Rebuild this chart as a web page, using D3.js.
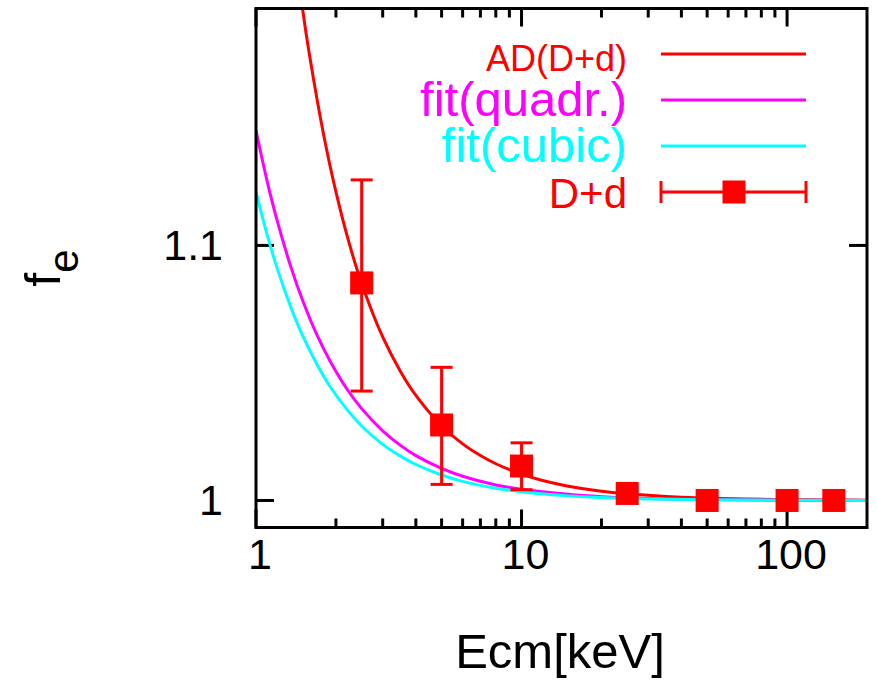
<!DOCTYPE html>
<html><head><meta charset="utf-8">
<script src="https://cdn.jsdelivr.net/npm/d3@7"></script>
<style>body{margin:0;background:#fff}svg{display:block}text{font-family:"Liberation Sans",Arial,sans-serif}</style>
</head><body><svg id="c" width="878" height="685"></svg>
<script>
// ---- data ----
const adE = [1.45,1.5,1.6,1.8,2.0,2.25,2.5,3,3.5,4,5,6,7,8,10,12,15,20,25,30,40,50,70,100,150,200];
const adF = [1.205,1.1922,1.1730,1.1431,1.1210,1.1004,1.0851,1.0641,1.0506,1.0412,1.0293,1.0222,1.0176,1.0144,1.0103,1.0078,1.0056,1.0036,1.0026,1.0020,1.0013,1.0009,1.0006,1.0003,1.0002,1.0001];
const quadE = [1,1.1,1.2,1.35,1.5,1.7,1.9,2.2,2.5,3,3.5,4,5,6,8,10,15,20,30,50,100,200];
const quadF = [1.145,1.1254,1.1099,1.0919,1.0783,1.0647,1.0547,1.0437,1.0360,1.0273,1.0216,1.0176,1.0126,1.0095,1.0061,1.0044,1.0024,1.0015,1.0008,1.0004,1.0001,1.0000];
const cubE = [1,1.1,1.2,1.35,1.5,1.7,1.9,2.2,2.5,3,3.5,4,5,6,8,10,15,20,30,50,100,200];
const cubF = [1.121,1.1044,1.0912,1.0760,1.0645,1.0532,1.0447,1.0357,1.0292,1.0220,1.0174,1.0141,1.0100,1.0075,1.0048,1.0034,1.0018,1.0012,1.0006,1.0003,1.0001,1.0000];
const ptE = [2.5,5,10,25,50,100,150];
const ptF = [1.0853,1.0296,1.0135,1.00275,1.0000,1.0000,1.0000];
const ptLo = [1.0429,1.0063,1.0042,1.0010,0.9995,0.9995,0.9995];
const ptHi = [1.1257,1.0522,1.0226,1.0045,1.0005,1.0005,1.0005];
const xTickVals = [1,10,100];
const xTickLabels = ["1","10","100"];
const yTickVals = [1,1.1];
const yTickLabels = ["1","1.1"];
const legendLabels = ["AD(D+d)","fit(quadr.)","fit(cubic)","D+d"];

// ---- layout ----
const L=256,R=867,T=8.5,B=527.5;
const svg=d3.select("#c");
const x=d3.scaleLog().domain([1,200]).range([L,R]);
const y=d3.scaleLinear().domain([0.9894,1.1929]).range([B,T]);
const red="#ff0000",mag="#ff00ff",cyan="#00ffff";

svg.append("defs").append("clipPath").attr("id","clip")
  .append("rect").attr("x",L).attr("y",T).attr("width",R-L).attr("height",B-T);

// ticks
const minor=[];
for(const d of [1,10,100]) for(let k=2;k<=9;k++){const v=d*k; if(v<200) minor.push(v);}
const tg=svg.append("g").attr("stroke","#000").attr("stroke-width",3);
xTickVals.forEach(v=>{
  tg.append("line").attr("x1",x(v)).attr("x2",x(v)).attr("y1",B).attr("y2",B-18);
  tg.append("line").attr("x1",x(v)).attr("x2",x(v)).attr("y1",T).attr("y2",T+18);
});
minor.forEach(v=>{
  tg.append("line").attr("x1",x(v)).attr("x2",x(v)).attr("y1",B).attr("y2",B-9);
  tg.append("line").attr("x1",x(v)).attr("x2",x(v)).attr("y1",T).attr("y2",T+9);
});
yTickVals.forEach(v=>{
  tg.append("line").attr("x1",L).attr("x2",L+18).attr("y1",y(v)).attr("y2",y(v));
  tg.append("line").attr("x1",R).attr("x2",R-18).attr("y1",y(v)).attr("y2",y(v));
});

// tick labels
xTickVals.forEach((v,i)=>{
  svg.append("text").attr("x",x(v)+4).attr("y",569).attr("text-anchor","middle")
    .attr("font-size",43).text(xTickLabels[i]);
});
yTickVals.forEach((v,i)=>{
  svg.append("text").attr("x",223).attr("y",y(v)+15).attr("text-anchor","end")
    .attr("font-size",43).text(yTickLabels[i]);
});

// axis labels
svg.append("text").attr("x",560).attr("y",668).attr("text-anchor","middle")
  .attr("font-size",49).text("Ecm[keV]");
const yl=svg.append("text").attr("transform","translate(60,268) rotate(-90)")
  .attr("text-anchor","middle").attr("font-size",50);
yl.append("tspan").text("f");
yl.append("tspan").attr("font-size",42).attr("dy",18).text("e");

// curves
const line=d3.line().x(d=>x(d[0])).y(d=>y(d[1])).curve(d3.curveCatmullRom.alpha(0.5));
const cg=svg.append("g").attr("clip-path","url(#clip)").attr("fill","none").attr("stroke-width",3);
cg.append("path").attr("d",line(adE.map((e,i)=>[e,adF[i]]))).attr("stroke",red);
cg.append("path").attr("d",line(quadE.map((e,i)=>[e,quadF[i]]))).attr("stroke",mag);
cg.append("path").attr("d",line(cubE.map((e,i)=>[e,cubF[i]]))).attr("stroke",cyan);

// points with error bars
const pg=svg.append("g");
ptE.forEach((e,i)=>{
  const cx=x(e);
  pg.append("line").attr("x1",cx).attr("x2",cx).attr("y1",y(ptLo[i])).attr("y2",y(ptHi[i])).attr("stroke",red).attr("stroke-width",3);
  [ptLo[i],ptHi[i]].forEach(v=>pg.append("line").attr("x1",cx-11).attr("x2",cx+11).attr("y1",y(v)).attr("y2",y(v)).attr("stroke",red).attr("stroke-width",3));
  pg.append("rect").attr("x",cx-11.5).attr("y",y(ptF[i])-11.5).attr("width",23).attr("height",23).attr("fill",red);
});

// frame
svg.append("rect").attr("x",L).attr("y",T).attr("width",R-L).attr("height",B-T)
  .attr("fill","none").attr("stroke","#000").attr("stroke-width",3);

// legend
const lg=svg.append("g");
const rowsY=[54,100,146,192], base=[70.7,116,162,208], fs=[36,49,49,42], cols=[red,mag,cyan,red];
legendLabels.forEach((t,i)=>{
  lg.append("text").attr("x",627).attr("y",base[i]).attr("text-anchor","end")
    .attr("font-size",fs[i]).attr("fill",cols[i]).text(t);
  lg.append("line").attr("x1",661).attr("x2",806).attr("y1",rowsY[i]).attr("y2",rowsY[i])
    .attr("stroke",cols[i]).attr("stroke-width",3);
});
[661,806].forEach(xx=>lg.append("line").attr("x1",xx).attr("x2",xx).attr("y1",rowsY[3]-11).attr("y2",rowsY[3]+11).attr("stroke",red).attr("stroke-width",3));
lg.append("rect").attr("x",734-11.5).attr("y",rowsY[3]-11.5).attr("width",23).attr("height",23).attr("fill",red);
</script></body></html>
